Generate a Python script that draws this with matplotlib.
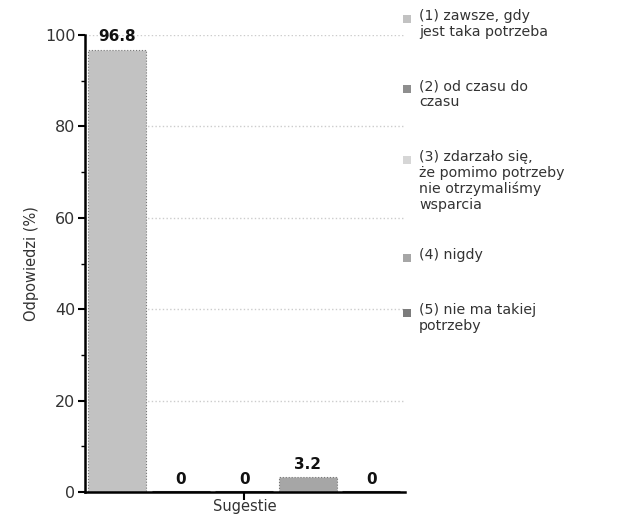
import matplotlib
matplotlib.use("Agg")
import matplotlib.pyplot as plt
from matplotlib.patches import Rectangle
from matplotlib.ticker import MultipleLocator

categories = ["(1) zawsze, gdy\njest taka potrzeba",
              "(2) od czasu do\nczasu",
              "(3) zdarzało się,\nże pomimo potrzeby\nnie otrzymaliśmy\nwsparcia",
              "(4) nigdy",
              "(5) nie ma takiej\npotrzeby"]
values = [96.8, 0, 0, 3.2, 0]
value_labels = ["96.8", "0", "0", "3.2", "0"]
colors = ["#c2c2c2", "#8e8e8e", "#d6d6d6", "#a6a6a6", "#7c7c7c"]


def main():
    fig = plt.figure(figsize=(627 / 100, 519 / 100), dpi=100)
    ax = fig.add_axes([85 / 627, 1 - 492 / 519, 320 / 627, 457 / 519])

    xs = list(range(len(values)))
    for x, v, c in zip(xs, values, colors):
        lw = 0.8 if v > 0 else 2.2
        ec = "#777777" if v > 0 else "#444444"
        ax.bar(x, v, width=0.91, color=c, edgecolor=ec, linewidth=lw,
               linestyle=":" if v > 0 else "-", zorder=2)
    for x, v, lab in zip(xs, values, value_labels):
        ax.text(x, v + 1.2, lab, ha="center", va="bottom", fontsize=11,
                fontweight="bold", color="#111111")

    ax.set_xlim(-0.51, 4.53)
    ax.set_ylim(0, 100)
    ax.set_xticks([2])
    ax.set_xticklabels([""])
    ax.tick_params(axis="x", length=6, width=1.5, pad=0)
    ax.set_xlabel("Sugestie", fontsize=10.5, color="#333333")
    ax.xaxis.set_label_coords(0.5, -0.015)
    ax.set_ylabel("Odpowiedzi (%)", fontsize=10.5, color="#333333", labelpad=4)
    ax.yaxis.set_major_locator(MultipleLocator(20))
    ax.yaxis.set_minor_locator(MultipleLocator(10))
    ax.tick_params(axis="y", which="major", length=5, width=1.5, labelsize=11.5,
                   labelcolor="#333333", pad=2)
    ax.tick_params(axis="y", which="minor", length=3, width=1)
    ax.yaxis.grid(True, which="major", linestyle=":", color="#cccccc", linewidth=1, zorder=0)
    ax.set_axisbelow(True)
    for s in ["top", "right"]:
        ax.spines[s].set_visible(False)
    ax.spines["left"].set_linewidth(1.8)
    ax.spines["bottom"].set_linewidth(1.8)

    # legend on the right
    tops = [9, 79, 150, 248, 303]
    for cat, c, t in zip(categories, colors, tops):
        fig.patches.append(Rectangle((403 / 627, 1 - (t + 14) / 519), 8 / 627, 8 / 519,
                                     transform=fig.transFigure, facecolor=c,
                                     edgecolor="none"))
        fig.text(419 / 627, 1 - t / 519, cat, ha="left", va="top", fontsize=10.2,
                 color="#333333", linespacing=1.15)

    fig.savefig("out.png", dpi=100)


if __name__ == "__main__":
    main()
